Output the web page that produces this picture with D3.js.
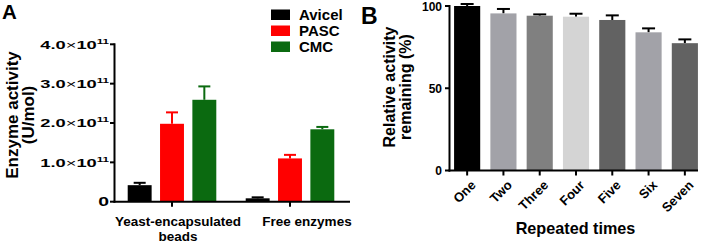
<!DOCTYPE html>
<html><head><meta charset="utf-8">
<script src="https://cdn.jsdelivr.net/npm/d3@7"></script>
<style>
body{margin:0;background:#fff;}
svg{display:block;font-family:"Liberation Sans",Arial,sans-serif;font-weight:bold;}
</style></head>
<body><svg id="c" width="706" height="243"></svg>
<script>
// Panel A data
const groupsA = ["Yeast-encapsulated beads", "Free enzymes"];
const seriesA = ["Avicel", "PASC", "CMC"];
const colorsA = ["#000000", "#ff0000", "#0b6a10"];
const meanAvicel = [0.42e11, 0.086e11];
const meanPASC = [1.98e11, 1.10e11];
const meanCMC = [2.59e11, 1.84e11];
const errAvicel = [0.06e11, 0.025e11];
const errPASC = [0.29e11, 0.09e11];
const errCMC = [0.34e11, 0.06e11];
const ticksA = [0, 1e11, 2e11, 3e11, 4e11];

// Panel B data
const roundsB = ["One", "Two", "Three", "Four", "Five", "Six", "Seven"];
const valuesB = [100, 95.5, 94.1, 93.5, 91.5, 84.0, 77.4];
const errorsB = [1.2, 2.7, 0.8, 1.8, 2.8, 2.4, 2.3];
const colorsB = ["#000000", "#a2a2a8", "#808080", "#d4d4d4", "#626262", "#a2a2a8", "#626262"];
const ticksB = [0, 50, 100];

const svg = d3.select("#c");
const AX = "#000";

// ---------- Panel A ----------
const yA = d3.scaleLinear().domain([0, 4e11]).range([201.7, 44.3]);
const xA = d3.scaleBand().domain(groupsA).range([113, 349]);
const xAs = d3.scaleBand().domain(seriesA).range([10.5, 107.5]).paddingInner(0.26).paddingOuter(0.13);
const valsA = [meanAvicel, meanPASC, meanCMC];
const errsA = [errAvicel, errPASC, errCMC];

const gA = svg.append("g");
seriesA.forEach((s, si) => {
  groupsA.forEach((g, gi) => {
    const x0 = xA(g) + xAs(s);
    const w = xAs.bandwidth();
    const v = valsA[si][gi], e = errsA[si][gi];
    const cx = x0 + w / 2;
    gA.append("line").attr("x1", cx).attr("x2", cx).attr("y1", yA(v)).attr("y2", yA(v + e))
      .attr("stroke", colorsA[si]).attr("stroke-width", 2);
    gA.append("line").attr("x1", cx - 6).attr("x2", cx + 6).attr("y1", yA(v + e)).attr("y2", yA(v + e))
      .attr("stroke", colorsA[si]).attr("stroke-width", 2);
    gA.append("rect").attr("x", x0).attr("y", yA(v)).attr("width", w).attr("height", yA(0) - yA(v))
      .attr("fill", colorsA[si]);
  });
});
// axes A
const axA = 114.5;
gA.append("line").attr("x1", axA).attr("x2", axA).attr("y1", yA(4e11) - 1).attr("y2", yA(0) + 1).attr("stroke", AX).attr("stroke-width", 2);
gA.append("line").attr("x1", axA - 1).attr("x2", 350).attr("y1", yA(0)).attr("y2", yA(0)).attr("stroke", AX).attr("stroke-width", 2);
ticksA.forEach(t => {
  gA.append("line").attr("x1", axA - 4.5).attr("x2", axA).attr("y1", yA(t)).attr("y2", yA(t)).attr("stroke", AX).attr("stroke-width", 2);
  const tx = gA.append("text").attr("transform", `translate(109,${yA(t) + 4.2}) scale(1.55,1)`)
    .attr("text-anchor", "end").attr("font-size", 11.8);
  if (t === 0) { tx.attr("font-size", 12.5).text("0"); }
  else {
    tx.append("tspan").text((t / 1e11).toFixed(1));
    tx.append("tspan").attr("font-weight", "normal").text("\u00d7");
    tx.append("tspan").text("10");
    tx.append("tspan").attr("font-size", 7.5).attr("dy", -5).text("11");
  }
});
const labelDx = [6, 17];
groupsA.forEach((g, gi) => {
  const cx = xA(g) + xA.bandwidth() / 2;
  gA.append("line").attr("x1", cx).attr("x2", cx).attr("y1", yA(0)).attr("y2", yA(0) + 5).attr("stroke", AX).attr("stroke-width", 2);
  const words = gi === 0 ? ["Yeast-encapsulated", "beads"] : ["Free enzymes"];
  words.forEach((w, wi) => {
    gA.append("text").attr("x", cx + labelDx[gi]).attr("y", 226 + wi * 14.5).attr("text-anchor", "middle")
      .attr("font-size", 13.5).text(w);
  });
});
// y title A
gA.append("text").attr("transform", "translate(17.5,115) rotate(-90)").attr("text-anchor", "middle").attr("font-size", 17).text("Enzyme activity");
gA.append("text").attr("transform", "translate(34,115) rotate(-90)").attr("text-anchor", "middle").attr("font-size", 17).text("(U/mol)");
// legend
seriesA.forEach((s, si) => {
  const cy = 14.5 + si * 16;
  gA.append("rect").attr("x", 271).attr("y", cy - 5).attr("width", 19).attr("height", 10.5).attr("fill", colorsA[si]);
  gA.append("text").attr("x", 299).attr("y", cy + 5.5).attr("font-size", 15).text(s);
});
gA.append("text").attr("x", 2).attr("y", 19).attr("font-size", 20.5).text("A");

// ---------- Panel B ----------
const yB = d3.scaleLinear().domain([0, 100]).range([170.5, 6]);
const xB = d3.scaleBand().domain(roundsB).range([449, 703]).paddingInner(0.28).paddingOuter(0.14);
const gB = svg.append("g");
roundsB.forEach((r, i) => {
  const x0 = xB(r), w = xB.bandwidth(), cx = x0 + w / 2;
  const v = valuesB[i], e = errorsB[i];
  gB.append("line").attr("x1", cx).attr("x2", cx).attr("y1", yB(v)).attr("y2", yB(v + e)).attr("stroke", "#000").attr("stroke-width", 2);
  gB.append("line").attr("x1", cx - 6.5).attr("x2", cx + 6.5).attr("y1", yB(v + e)).attr("y2", yB(v + e)).attr("stroke", "#000").attr("stroke-width", 2);
  gB.append("rect").attr("x", x0).attr("y", yB(v)).attr("width", w).attr("height", yB(0) - yB(v)).attr("fill", colorsB[i]);
  gB.append("line").attr("x1", cx).attr("x2", cx).attr("y1", yB(0)).attr("y2", yB(0) + 5).attr("stroke", AX).attr("stroke-width", 2);
  gB.append("text").attr("transform", `translate(${cx + 3},${yB(0) + 9}) rotate(-45)`).attr("text-anchor", "end")
    .attr("font-size", 13).attr("dy", "0.7em").text(r);
});
gB.append("line").attr("x1", 449.5).attr("x2", 449.5).attr("y1", yB(100) - 1).attr("y2", yB(0) + 1).attr("stroke", AX).attr("stroke-width", 2);
gB.append("line").attr("x1", 448.5).attr("x2", 698).attr("y1", yB(0)).attr("y2", yB(0)).attr("stroke", AX).attr("stroke-width", 2);
ticksB.forEach(t => {
  gB.append("line").attr("x1", 445).attr("x2", 450).attr("y1", yB(t)).attr("y2", yB(t)).attr("stroke", AX).attr("stroke-width", 2);
  gB.append("text").attr("x", 442).attr("y", yB(t) + 4.5).attr("text-anchor", "end").attr("font-size", 12).text(t);
});
gB.append("text").attr("x", 575.5).attr("y", 234).attr("text-anchor", "middle").attr("font-size", 16.2).text("Repeated times");
gB.append("text").attr("transform", "translate(395,87) rotate(-90)").attr("text-anchor", "middle").attr("font-size", 16).text("Relative activity");
gB.append("text").attr("transform", "translate(411,87) rotate(-90)").attr("text-anchor", "middle").attr("font-size", 16).text("remaining (%)");
gB.append("text").attr("x", 361).attr("y", 24).attr("font-size", 23).text("B");
</script></body></html>
